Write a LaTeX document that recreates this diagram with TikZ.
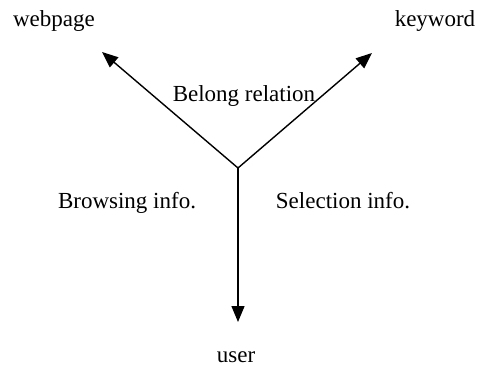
\documentclass[tikz,border=0pt]{standalone}
\usepackage{fontspec}
\setmainfont{Liberation Serif}
\usetikzlibrary{arrows.meta}
\begin{document}
\begin{tikzpicture}[x=1pt,y=-1pt,
  lbl/.style={anchor=base,inner sep=0pt,font=\fontsize{23}{27}\selectfont},
  arr/.style={line width=1.4pt,-{Triangle[length=16pt,width=13pt]}}]
\useasboundingbox (0,0) rectangle (482,369);
\coordinate (c) at (238,168);
\coordinate (wp) at (102,52);
\coordinate (kw) at (372,53);
\coordinate (us) at (238,322);
\node[lbl] (tw) at (54,27) {webpage};
\node[lbl] (tk) at (435,27) {keyword};
\node[lbl] (tb) at (244,101) {Belong relation};
\node[lbl] (tbr) at (127,208) {Browsing info.};
\node[lbl] (ts) at (343,208) {Selection info.};
\node[lbl] (tu) at (236,362) {user};
\draw[arr] (c) -- (wp);
\draw[arr] (c) -- (kw);
\draw[arr] (c) -- (us);
\end{tikzpicture}
\end{document}
